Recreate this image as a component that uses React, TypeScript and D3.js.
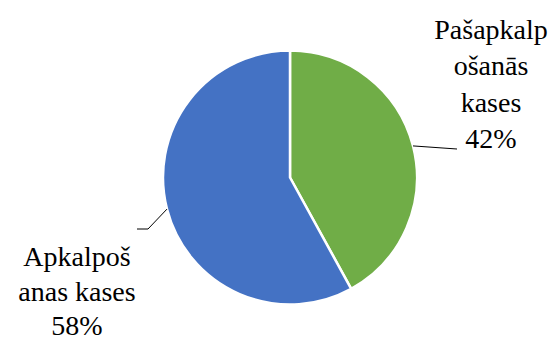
import React from "react";
import * as d3 from "d3";

const categories = ["Pašapkalpošanās kases", "Apkalpošanas kases"];
const values = [42, 58];
const labelLines = [
  ["Pašapkalp", "ošanās", "kases", "42%"],
  ["Apkalpoš", "anas kases", "58%"],
];
const colors = ["#70AD47", "#4472C4"];

export default function App() {
  const W = 559, H = 340;
  const cx = 290, cy = 177.5, r = 127;
  const pie = d3.pie<number>().sort(null).value((d) => d)(values);
  const arc = d3.arc<d3.PieArcDatum<number>>().innerRadius(0).outerRadius(r);
  const layout = [
    { x: 491, y: 38.5, lh: 36.5, elbow: [457, 149], end: [457, 149] },
    { x: 77, y: 266, lh: 34.5, elbow: [148, 229], end: [137, 229] },
  ];
  return (
    <svg width={W} height={H} style={{ position: "absolute", left: 0, top: 0 }}>
      <rect width={W} height={H} fill="#fff" />
      <g transform={`translate(${cx},${cy})`}>
        {pie.map((p, i) => (
          <path key={categories[i]} d={arc(p) || ""} fill={colors[i]} stroke="#fff" strokeWidth={2.5} strokeLinejoin="round" />
        ))}
      </g>
      {pie.map((p, i) => {
        const mid = (p.startAngle + p.endAngle) / 2;
        const sx = cx + r * Math.sin(mid);
        const sy = cy - r * Math.cos(mid);
        const L = layout[i];
        return (
          <g key={"l" + i}>
            <polyline
              points={`${sx},${sy} ${L.elbow[0]},${L.elbow[1]} ${L.end[0]},${L.end[1]}`}
              fill="none"
              stroke="#000"
              strokeWidth={1}
            />
            <text
              style={{ fontFamily: '"Liberation Serif", "Times New Roman", serif', fontSize: "28px" }}
              textAnchor="middle"
              fill="#000"
            >
              {labelLines[i].map((t, j) => (
                <tspan key={j} x={L.x} y={L.y + j * L.lh}>
                  {t}
                </tspan>
              ))}
            </text>
          </g>
        );
      })}
    </svg>
  );
}
